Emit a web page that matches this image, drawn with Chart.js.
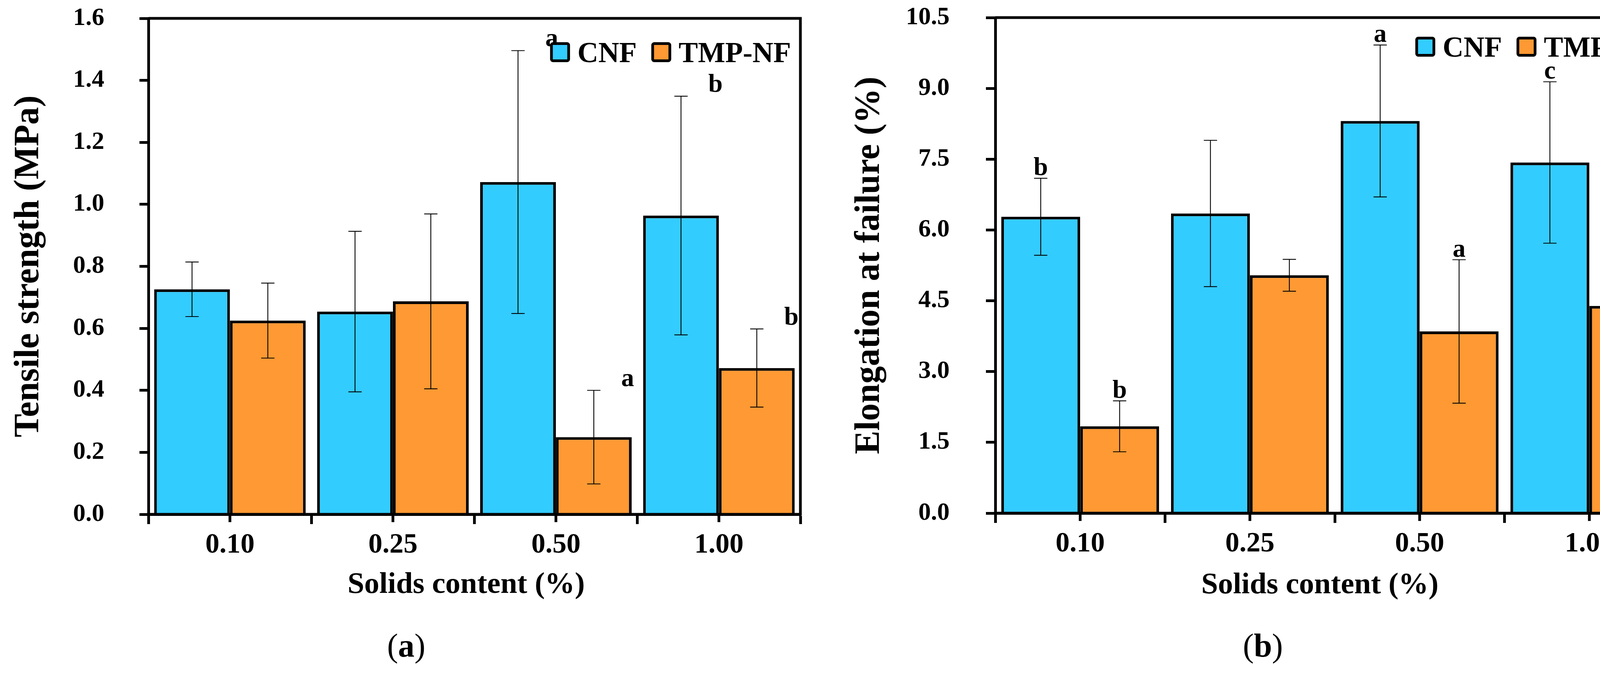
<!DOCTYPE html>
<html><head><meta charset="utf-8">
<script src="https://cdn.jsdelivr.net/npm/chart.js@4.4.1/dist/chart.umd.min.js"></script>
<style>
html,body{margin:0;padding:0;background:#fff;}
body{width:4311px;height:1722px;position:relative;overflow:hidden;font-family:"Liberation Serif","Times New Roman",serif;}
canvas{position:absolute;top:0;}
#ca{left:0;} #cb{left:2155px;}
.cap{position:absolute;top:1610px;font-size:84px;line-height:1;color:#000;transform:translateX(-50%);white-space:nowrap;}
.cap b{font-weight:bold;}
</style></head><body>
<canvas id="ca" width="2155" height="1722"></canvas>
<canvas id="cb" width="2156" height="1722"></canvas>
<div class="cap" style="left:1040px">(<b>a</b>)</div>
<div class="cap" style="left:3233px">(<b>b</b>)</div>
<script>
// ---------- data ----------
const categories = ['0.10', '0.25', '0.50', '1.00'];
const seriesNames = ['CNF', 'TMP-NF'];
const seriesColors = ['#33CCFF', '#FF9933'];

// (a) Tensile strength (MPa)
const tensileCNF   = [0.726, 0.654, 1.072, 0.964];
const tensileCNFsd = [0.088, 0.259, 0.424, 0.385];
const tensileTMP   = [0.625, 0.687, 0.249, 0.472];
const tensileTMPsd = [0.121, 0.282, 0.151, 0.126];
const tensileLettersCNF = ['', '', 'a', 'b'];
const tensileLettersTMP = ['', '', 'a', 'b'];
const tensileTicks = ['0.0', '0.2', '0.4', '0.6', '0.8', '1.0', '1.2', '1.4', '1.6'];

// (b) Elongation at failure (%)
const elongCNF   = [6.28, 6.35, 8.31, 7.43];
const elongCNFsd = [0.816, 1.55, 1.61, 1.71];
const elongTMP   = [1.84, 5.04, 3.85, 4.39];
const elongTMPsd = [0.54, 0.337, 1.52, 0.88];
const elongLettersCNF = ['b', '', 'a', 'c'];
const elongLettersTMP = ['b', '', 'a', 'c'];
const elongTicks = ['0.0', '1.5', '3.0', '4.5', '6.0', '7.5', '9.0', '10.5'];

const xTitle = 'Solids content (%)';
const fam = '"Liberation Serif", "Times New Roman", serif';

function makeChart(id, d, L) {
  const el = document.getElementById(id);
  const W = el.width, H = el.height;
  const extras = {
    id: 'extras',
    afterDatasetsDraw(chart) {
      const ctx = chart.ctx, ys = chart.scales.y;
      ctx.save();
      [[d.cnf, d.cnfSd, d.lCnf], [d.tmp, d.tmpSd, d.lTmp]].forEach((s, di) => {
        chart.getDatasetMeta(di).data.forEach((bar, i) => {
          const x = bar.x;
          const yt = ys.getPixelForValue(s[0][i] + s[1][i]);
          const yb = ys.getPixelForValue(s[0][i] - s[1][i]);
          ctx.strokeStyle = '#000'; ctx.lineWidth = 2.2;
          ctx.beginPath();
          ctx.moveTo(x, yt); ctx.lineTo(x, yb);
          ctx.moveTo(x - 17, yt); ctx.lineTo(x + 17, yt);
          ctx.moveTo(x - 17, yb); ctx.lineTo(x + 17, yb);
          ctx.stroke();
          const t = s[2][i];
          if (t) {
            ctx.font = 'bold ' + L.letterSize + 'px ' + fam;
            ctx.fillStyle = '#000';
            ctx.textAlign = L.letterAlign; ctx.textBaseline = 'alphabetic';
            ctx.fillText(t, x + L.letterDx, yt + L.letterDy);
          }
        });
      });
      ctx.restore();
    },
    afterDraw(chart) {
      const ctx = chart.ctx, a = chart.chartArea, xs = chart.scales.x;
      ctx.save();
      ctx.strokeStyle = '#000'; ctx.lineWidth = 7; ctx.lineCap = 'butt';
      ctx.beginPath();
      ctx.moveTo(a.left, a.top); ctx.lineTo(a.right + 3.5, a.top);
      ctx.moveTo(a.right, a.top); ctx.lineTo(a.right, a.bottom);
      ctx.moveTo(a.left - 3.5, a.bottom); ctx.lineTo(a.right + 3.5, a.bottom);
      categories.forEach((c, i) => {
        const px = xs.getPixelForValue(i);
        ctx.moveTo(px, a.bottom); ctx.lineTo(px, a.bottom + 20);
      });
      ctx.stroke();
      // legend
      const dsets = chart.data.datasets;
      ctx.font = 'bold ' + L.legendSize + 'px ' + fam;
      const widths = dsets.map(ds => ctx.measureText(ds.label).width);
      const box = 51, boxGap = 19, itemGap = 37;
      let total = dsets.length * (box + boxGap) + widths.reduce((p, q) => p + q, 0) + itemGap * (dsets.length - 1);
      let x = a.right - L.legendRight - total;
      const by = a.top + L.legendTop;
      dsets.forEach((ds, i) => {
        ctx.fillStyle = ds.backgroundColor; ctx.strokeStyle = '#000'; ctx.lineWidth = 7;
        ctx.beginPath();
        ctx.roundRect(x + 3.5, by + 3.5, box - 7, box - 7, 4);
        ctx.fill(); ctx.stroke();
        ctx.fillStyle = '#000'; ctx.textAlign = 'left'; ctx.textBaseline = 'alphabetic';
        ctx.fillText(ds.label, x + box + boxGap, by + box);
        x += box + boxGap + widths[i] + itemGap;
      });
      // x title
      ctx.font = 'bold 77px ' + fam;
      ctx.textAlign = 'center'; ctx.textBaseline = 'alphabetic'; ctx.fillStyle = '#000';
      ctx.fillText(xTitle, (a.left + a.right) / 2 + L.xTitleDx, L.xTitleBase);
      ctx.restore();
    }
  };
  return new Chart(el, {
    type: 'bar',
    data: {
      labels: categories,
      datasets: [
        { label: seriesNames[0], data: d.cnf, backgroundColor: seriesColors[0], borderColor: '#000', borderWidth: 7 },
        { label: seriesNames[1], data: d.tmp, backgroundColor: seriesColors[1], borderColor: '#000', borderWidth: 7 }
      ]
    },
    options: {
      responsive: false, animation: false, devicePixelRatio: 1,
      datasets: { bar: { categoryPercentage: 0.93, barPercentage: 1.0 } },
      layout: { padding: { left: 0, right: W - L.right, top: L.top, bottom: 0 } },
      plugins: { legend: { display: false }, tooltip: { enabled: false } },
      scales: {
        x: {
          z: 1, offset: true,
          ticks: { padding: 11, color: '#000', font: { family: fam, size: 72, weight: 'bold' }, maxRotation: 0 },
          grid: { offset: true, drawOnChartArea: false, drawTicks: true, tickLength: 25, tickWidth: 7, tickColor: '#000' },
          border: { display: true, color: '#000', width: 7 },
          afterFit: s => { s.height = H - L.bottom; s.paddingLeft = 0; s.paddingRight = 0; }
        },
        y: {
          z: 1, min: d.min, max: d.max,
          ticks: { stepSize: d.step, padding: L.yTickPad, color: '#000', font: { family: fam, size: 64, weight: 'bold' },
                   callback: (v, i) => d.ticks[i] },
          grid: { drawOnChartArea: false, drawTicks: true, tickLength: L.yTickLen, tickWidth: 7, tickColor: '#000' },
          border: { display: true, color: '#000', width: 7 },
          title: { display: true, text: d.yTitle, color: '#000', font: { family: fam, size: 90, weight: 'bold' },
                   padding: { top: L.yTitlePad, bottom: 0 } },
          afterFit: s => { s.width = L.left; s.paddingTop = 0; s.paddingBottom = 0; }
        }
      }
    },
    plugins: [extras]
  });
}

makeChart('ca', {
  cnf: tensileCNF, cnfSd: tensileCNFsd, tmp: tensileTMP, tmpSd: tensileTMPsd,
  lCnf: tensileLettersCNF, lTmp: tensileLettersTMP, ticks: tensileTicks,
  min: 0, max: 1.6, step: 0.2, yTitle: 'Tensile strength (MPa)'
}, {
  left: 380, right: 2049, top: 47, bottom: 1316,
  yTickLen: 23, yTickPad: 90, yTitlePad: 21,
  letterSize: 66, letterAlign: 'left', letterDx: 70, letterDy: -11,
  legendSize: 74, legendRight: 24, legendTop: 61,
  xTitleDx: -21, xTitleBase: 1517
});

makeChart('cb', {
  cnf: elongCNF, cnfSd: elongCNFsd, tmp: elongTMP, tmpSd: elongTMPsd,
  lCnf: elongLettersCNF, lTmp: elongLettersTMP, ticks: elongTicks,
  min: 0, max: 10.5, step: 1.5, yTitle: 'Elongation at failure (%)'
}, {
  left: 393, right: 2131, top: 45, bottom: 1313,
  yTickLen: 24, yTickPad: 93, yTitlePad: 18,
  letterSize: 66, letterAlign: 'center', letterDx: 0, letterDy: -8,
  legendSize: 74, legendRight: 46, legendTop: 49,
  xTitleDx: -38, xTitleBase: 1518
});
</script>
</body></html>
